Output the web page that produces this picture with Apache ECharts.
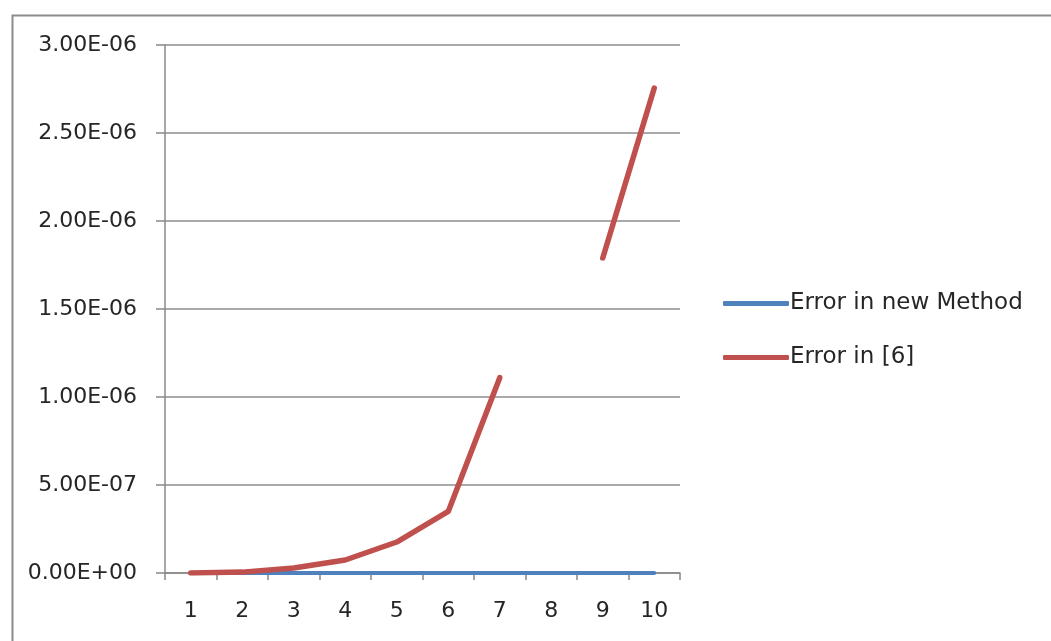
<!DOCTYPE html>
<html>
<head>
<meta charset="utf-8">
<script src="https://cdn.jsdelivr.net/npm/echarts@6/dist/echarts.min.js"></script>
<style>html,body{margin:0;padding:0;background:#fff}#c{width:1051px;height:641px}</style>
</head>
<body>
<div id="c"></div>
<script>
const categories = ['1','2','3','4','5','6','7','8','9','10'];
const newMethod = [1e-10, 1e-10, 1e-10, 1e-10, 1e-10, 1e-10, 1e-10, 1e-10, 1e-10, 1e-10];
const ref6 = [0, 5e-9, 2.8e-8, 7.4e-8, 1.76e-7, 3.5e-7, 1.11e-6, null, 1.79e-6, 2.755e-6];
const seriesNames = ['Error in new Method', 'Error in [6]'];

function fmt(v) {
  if (v === 0) return '0.00E+00';
  const s = v.toExponential(2).split('e');
  const e = parseInt(s[1], 10);
  const sign = e < 0 ? '-' : '+';
  const a = Math.abs(e);
  return s[0] + 'E' + sign + (a < 10 ? '0' + a : a);
}

const FONT = 'DejaVu Sans';
const chart = echarts.init(document.getElementById('c'));
chart.setOption({
  animation: false,
  backgroundColor: '#fff',
  graphic: [{
    type: 'rect', left: 10, top: 13,
    shape: { x: 0, y: 0, width: 1100, height: 700 },
    style: { fill: 'none', stroke: '#8c8c8c', lineWidth: 2 }, silent: true
  }],
  grid: { left: 165, top: 45, width: 515, height: 528 },
  legend: {
    orient: 'vertical', left: 718, top: 287,
    itemWidth: 66, itemHeight: 5, itemGap: 31,
    icon: 'roundRect',
    data: seriesNames,
    textStyle: { fontFamily: FONT, fontSize: 23, color: '#262626', padding: [0, 0, 0, -4] }
  },
  xAxis: {
    type: 'category', data: categories, boundaryGap: true,
    axisLine: { lineStyle: { color: '#888', width: 1.5 } },
    axisTick: { show: true, length: 7, lineStyle: { color: '#888', width: 1.5 } },
    axisLabel: { fontFamily: FONT, fontSize: 22, color: '#262626', margin: 27 }
  },
  yAxis: {
    type: 'value', min: 0, max: 3e-6, interval: 5e-7,
    axisLine: { show: true, lineStyle: { color: '#888', width: 1.5 } },
    axisTick: { show: true, length: 9, lineStyle: { color: '#888', width: 1.5 } },
    splitLine: { lineStyle: { color: '#8c8c8c', width: 1.5 } },
    axisLabel: { fontFamily: FONT, fontSize: 22, color: '#262626', margin: 28, formatter: fmt }
  },
  series: [
    { name: seriesNames[0], type: 'line', data: newMethod, symbol: 'none',
      lineStyle: { color: '#4F81BD', width: 4, cap: 'round' }, itemStyle: { color: '#4F81BD' } },
    { name: seriesNames[1], type: 'line', data: ref6, symbol: 'none', connectNulls: false,
      lineStyle: { color: '#C0504D', width: 5.5, cap: 'round', join: 'round' }, itemStyle: { color: '#C0504D' } }
  ]
});
</script>
</body>
</html>
